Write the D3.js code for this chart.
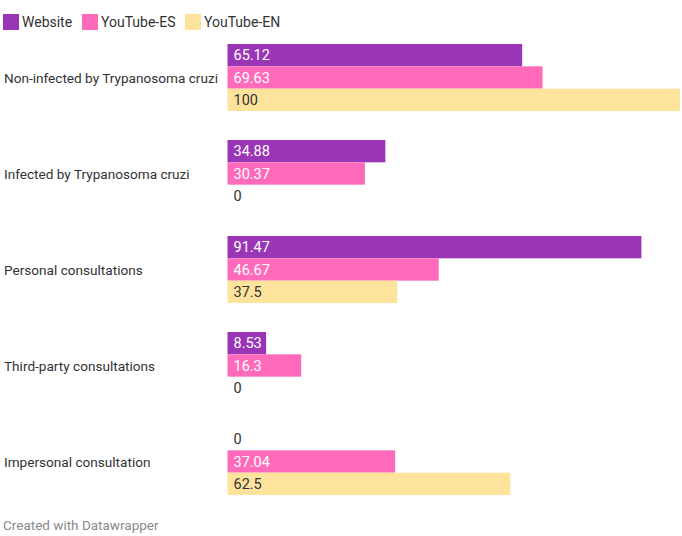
<!DOCTYPE html>
<html>
<head>
<meta charset="utf-8">
<script src="https://cdn.jsdelivr.net/npm/d3@7"></script>
<style>
  body { margin: 0; background: #fff; font-family: Roboto, sans-serif; }
</style>
</head>
<body>
<svg width="682" height="536"></svg>
<script>
const categories = ['Non-infected by Trypanosoma cruzi', 'Infected by Trypanosoma cruzi', 'Personal consultations', 'Third-party consultations', 'Impersonal consultation'];
const seriesNames = ['Website', 'YouTube-ES', 'YouTube-EN'];
const website   = [65.12, 34.88, 91.47, 8.53, 0];
const youtubeES = [69.63, 30.37, 46.67, 16.3, 37.04];
const youtubeEN = [100, 0, 37.5, 0, 62.5];
const colors = ['#9b35b7', '#ff6bba', '#fee39d'];
const textColors = ['#fff', '#fff', '#333'];

const svg = d3.select('svg');
const width  = +svg.attr('width');
const height = +svg.attr('height');
const series = [website, youtubeES, youtubeEN];

// legend
const legend = svg.append('g').attr('transform', 'translate(3,14)');
const legX = [0, 79, 182];
seriesNames.forEach((name, i) => {
  const lg = legend.append('g').attr('transform', `translate(${legX[i]},0)`);
  lg.append('rect').attr('width', 16).attr('height', 16).attr('fill', colors[i]);
  lg.append('text').attr('x', 19).attr('y', 13).attr('font-size', 14).attr('fill', '#333').text(name);
});

const margin = { top: 44, left: 227.5, right: 2 };
const x = d3.scaleLinear().domain([0, 100]).range([margin.left, width - margin.right]);
const yGroup = d3.scaleBand().domain(categories).range([margin.top, margin.top + 96 * 5]).paddingInner(0).paddingOuter(0);
const ySub = d3.scaleBand().domain(seriesNames).range([0, 67]);

const groups = svg.selectAll('g.group').data(categories).join('g')
  .attr('class', 'group')
  .attr('transform', d => `translate(0,${yGroup(d)})`);

groups.append('text')
  .attr('x', 4).attr('y', 34).attr('dy', '0.35em')
  .attr('font-size', 13.6).attr('fill', '#333')
  .text(d => d);

groups.each(function(cat, ci) {
  const g = d3.select(this);
  seriesNames.forEach((name, si) => {
    const v = series[si][ci];
    g.append('rect')
      .attr('x', x(0)).attr('y', ySub(name))
      .attr('width', x(v) - x(0)).attr('height', ySub.bandwidth())
      .attr('fill', colors[si]);
    g.append('text')
      .attr('x', x(0) + 6).attr('y', ySub(name) + ySub.bandwidth() / 2).attr('dy', '0.35em')
      .attr('font-size', 14.5)
      .attr('fill', v > 5 ? textColors[si] : '#333')
      .text(v);
  });
});

svg.append('text')
  .attr('x', 3).attr('y', 530)
  .attr('font-size', 13.5).attr('fill', '#8a8a8a')
  .text('Created with Datawrapper');
</script>
</body>
</html>
